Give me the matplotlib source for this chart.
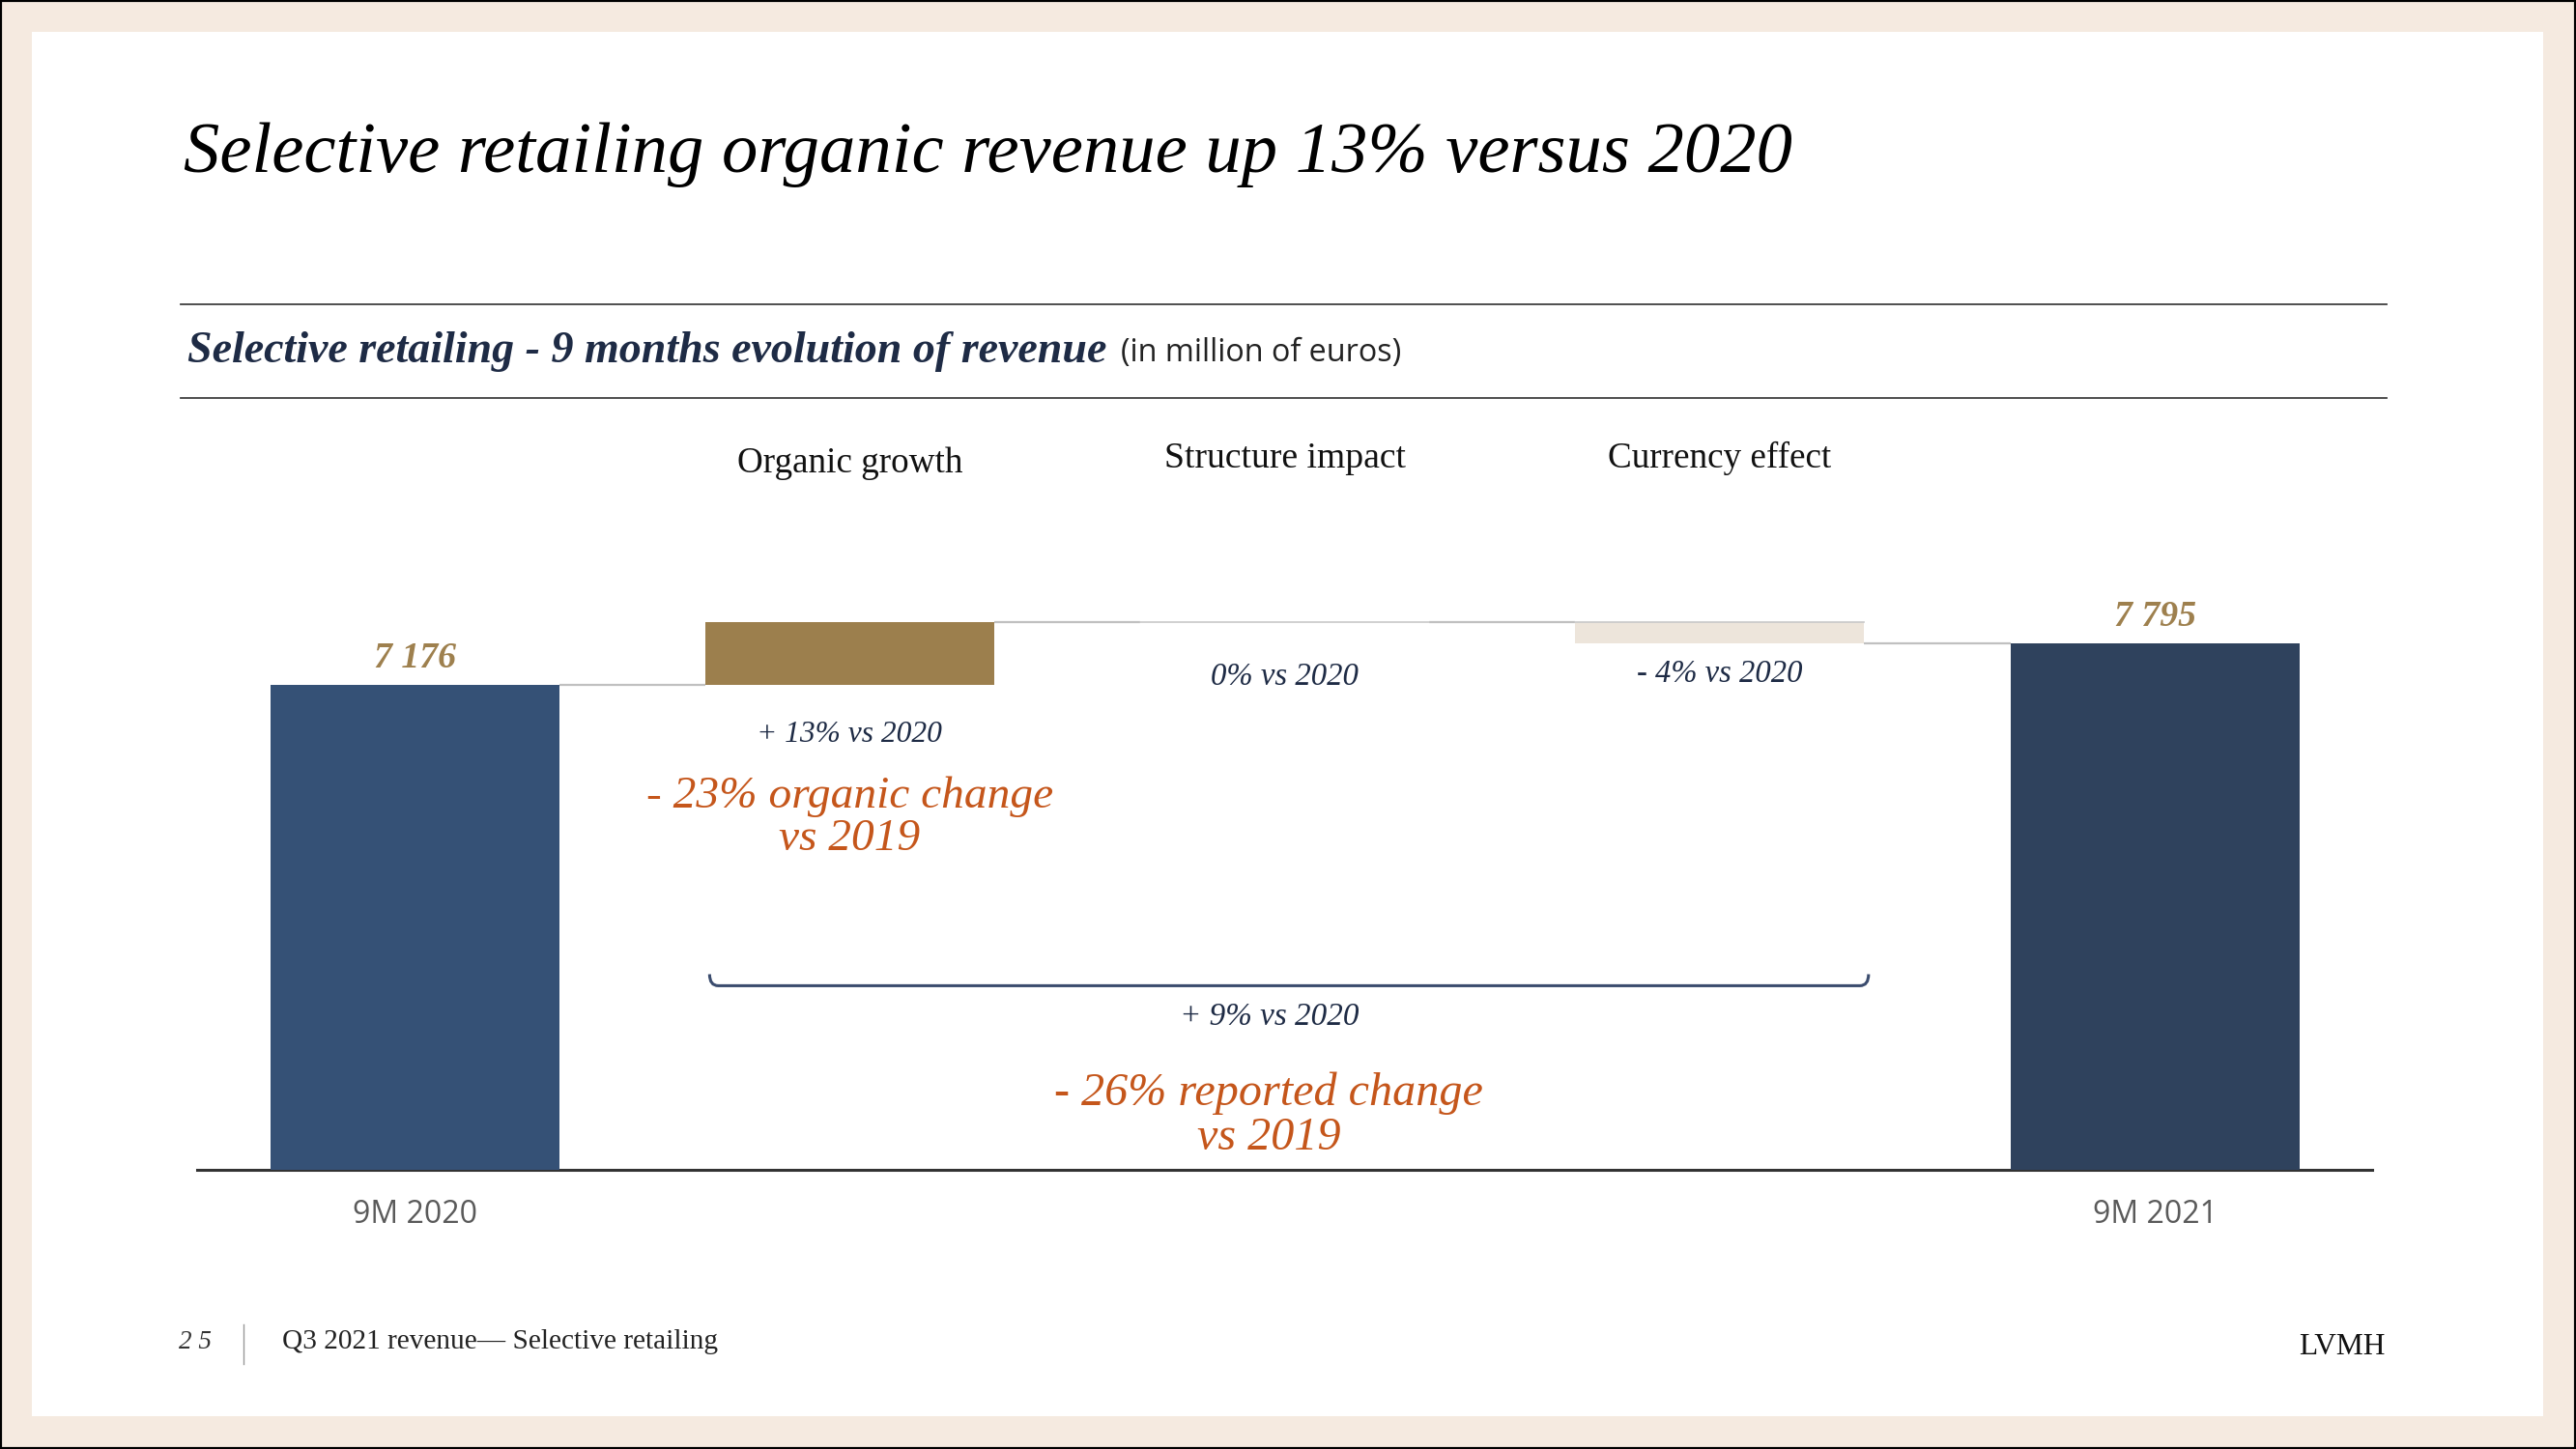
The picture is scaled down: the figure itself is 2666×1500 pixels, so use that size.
import matplotlib
matplotlib.use("Agg")
import matplotlib.pyplot as plt
from matplotlib.patches import Rectangle, PathPatch
from matplotlib.path import Path
from matplotlib.lines import Line2D
import matplotlib.transforms as mtransforms

# ---------------- data ----------------
categories = ["9M 2020", "Organic growth", "Structure impact", "Currency effect", "9M 2021"]
start_value = 7176
changes = [927, 8, -316]          # organic, structure, currency
end_value = 7795
value_labels = ["7 176", "7 795"]
change_labels = ["+ 13% vs 2020", "0% vs 2020", "- 4% vs 2020"]
tick_labels = ["9M 2020", "9M 2021"]
total_change_label = "+ 9% vs 2020"
organic_2019 = "- 23% organic change\nvs 2019"
reported_2019 = "- 26% reported change\nvs 2019"

# ---------------- layout helpers (reference shown at 1568x882) ----------------
W, H = 1568.0, 882.0
FIG_W, FIG_H, DPI = 26.66, 15.0, 100
SC = FIG_W * DPI / W

def fx(x):
    return x / W

def fy(y):
    return 1 - y / H

SERIF = "Liberation Serif"
SANS = "Open Sans"
NAVY_TXT = "#1E2B45"
GOLD = "#9E804E"
ORANGE = "#C5561B"

fig = plt.figure(figsize=(FIG_W, FIG_H), dpi=DPI)
fig.patch.set_facecolor("#F5EAE0")
fig.add_artist(Rectangle((fx(19.5), fy(862)), fx(1548) - fx(19.5), fy(19.5) - fy(862),
                         transform=fig.transFigure, facecolor="white", edgecolor="none", zorder=0))
fig.add_artist(Rectangle((0, 0), 1, 1, transform=fig.transFigure, facecolor="none",
                         edgecolor="black", linewidth=3, zorder=10))

renderer = fig.canvas.get_renderer()

def fit_artist(t, width_small):
    bb = t.get_window_extent(renderer)
    t.set_fontsize(t.get_fontsize() * width_small * SC / bb.width)
    return t

def fit_text(x0, x1, y, s, ha="center", **kw):
    xpos = {"center": (x0 + x1) / 2, "left": x0, "right": x1}[ha]
    t = fig.text(fx(xpos), fy(y), s, ha=ha, va="center", **kw)
    return fit_artist(t, x1 - x0)

# title
fit_text(112, 1092, 94, "Selective retailing organic revenue up 13% versus 2020", ha="left",
         family=SERIF, style="italic", color="black", fontsize=50)

# rules
for yy in (185, 242):
    fig.add_artist(Line2D([fx(110), fx(1453)], [fy(yy), fy(yy)], transform=fig.transFigure,
                          color="#404040", linewidth=1.3))

# subtitle
fit_text(114, 674, 214, "Selective retailing - 9 months evolution of revenue", ha="left",
         family=SERIF, style="italic", weight="bold", color=NAVY_TXT, fontsize=20)
fit_text(682, 854, 215, "(in million of euros)", ha="left", family=SANS, color="#222222", fontsize=14)

# ---------------- axes ----------------
base_px, ref_px = 712.0, 417.0           # baseline and top of first bar (small coords)
ax_top_px = 300.0
ax = fig.add_axes([fx(120), fy(base_px), fx(1444) - fx(120), fy(ax_top_px) - fy(base_px)])
ax.set_facecolor("none")
ax.set_xlim(-0.5, 4.5)
ax.set_ylim(0, start_value * (base_px - ax_top_px) / (base_px - ref_px))

bar_w = 176 / 265.0
x = list(range(len(categories)))
bottoms, heights = [0], [start_value]
level = start_value
levels = [start_value]
for c in changes:
    bottoms.append(level if c >= 0 else level + c)
    heights.append(abs(c))
    level += c
    levels.append(level)
bottoms.append(0)
heights.append(end_value)
levels.append(end_value)
colors = ["#355176", "#9C7F4D", "#E4E4E4", "#EDE5DB", "#2F425D"]

ax.bar(x, heights, bottom=bottoms, width=bar_w, color=colors, edgecolor="none", zorder=3)

# connector lines
for i in range(len(x) - 1):
    ax.plot([x[i] + bar_w / 2, x[i + 1] - bar_w / 2], [levels[i], levels[i]],
            color="#C0C0C0", linewidth=1.6, zorder=2, solid_capstyle="butt")
for i in (2, 3):
    ax.plot([x[i] - bar_w / 2, x[i] + bar_w / 2], [bottoms[i] + heights[i]] * 2,
            color="#C8C8C8", linewidth=1.2, zorder=4)

for s in ("top", "left", "right"):
    ax.spines[s].set_visible(False)
ax.spines["bottom"].set_color("#333333")
ax.spines["bottom"].set_linewidth(2.2)
ax.set_yticks([])
ax.set_xticks([0, 4])
ax.set_xticklabels(tick_labels, family=SANS, fontsize=23, color="#5A5A5A")
ax.tick_params(axis="x", length=0, pad=22)

# value labels above totals
for xi, val, lab in ((0, start_value, value_labels[0]), (4, end_value, value_labels[1])):
    t = ax.annotate(lab, (xi, val), xytext=(0, 16 * SC * 72 / DPI), textcoords="offset points",
                    ha="center", va="center", family=SERIF, style="italic", weight="bold",
                    color=GOLD, fontsize=25)
    fit_artist(t, 50)

blend = mtransforms.blended_transform_factory(ax.transData, fig.transFigure)

# category labels on top
for xi, cat, yy, wd in ((1, categories[1], 282, 137), (2, categories[2], 279, 147),
                        (3, categories[3], 279, 136)):
    t = ax.text(xi, fy(yy), cat, transform=blend, ha="center", va="center",
                family=SERIF, fontsize=20, color="#111111")
    fit_artist(t, wd)

# change labels
for xi, lab, yy, wd in ((1, change_labels[0], 447, 113), (2, change_labels[1], 412, 90),
                        (3, change_labels[2], 410, 101)):
    t = ax.text(xi, fy(yy), lab, transform=blend, ha="center", va="center",
                family=SERIF, style="italic", fontsize=20, color=NAVY_TXT)
    fit_artist(t, wd)

# orange call-outs
x_total = 1.964
t = ax.text(1, fy(498), organic_2019, transform=blend, ha="center", va="center",
            family=SERIF, style="italic", fontsize=28, color=ORANGE, linespacing=1.05)
fit_artist(t, 248)
t = ax.text(x_total, fy(679), reported_2019, transform=blend, ha="center", va="center",
            family=SERIF, style="italic", fontsize=28, color=ORANGE, linespacing=1.05)
fit_artist(t, 261)
t = ax.text(x_total, fy(619), total_change_label, transform=blend, ha="center", va="center",
            family=SERIF, style="italic", fontsize=20, color=NAVY_TXT)
fit_artist(t, 109)

# bracket between organic left edge and currency right edge
bx0, bx1 = 1 - bar_w / 2 + 0.01, 3 + bar_w / 2 + 0.01
yb, yt = fy(600), fy(593)
dx = 0.02
verts = [(bx0, yt), (bx0, yb), (bx0 + dx, yb), (bx1 - dx, yb), (bx1, yb), (bx1, yt)]
codes = [Path.MOVETO, Path.CURVE3, Path.CURVE3, Path.LINETO, Path.CURVE3, Path.CURVE3]
ax.add_patch(PathPatch(Path(verts, codes), transform=blend, facecolor="none",
                       edgecolor="#3B4C6E", linewidth=2.2, clip_on=False))

# footer
fit_text(109, 129, 817, "2 5", ha="left", family=SERIF, style="italic", fontsize=16, color="#333333")
fig.add_artist(Line2D([fx(148), fx(148)], [fy(806), fy(830)], transform=fig.transFigure,
                      color="#999999", linewidth=1))
fit_text(172, 437, 817, "Q3 2021 revenue\u2014 Selective retailing", ha="left",
         family=SERIF, fontsize=13, color="#222222")
fit_text(1399, 1452, 820, "LVMH", ha="left", family=SERIF, fontsize=15, color="#111111")

fig.savefig("out.png", dpi=DPI, facecolor=fig.get_facecolor())
